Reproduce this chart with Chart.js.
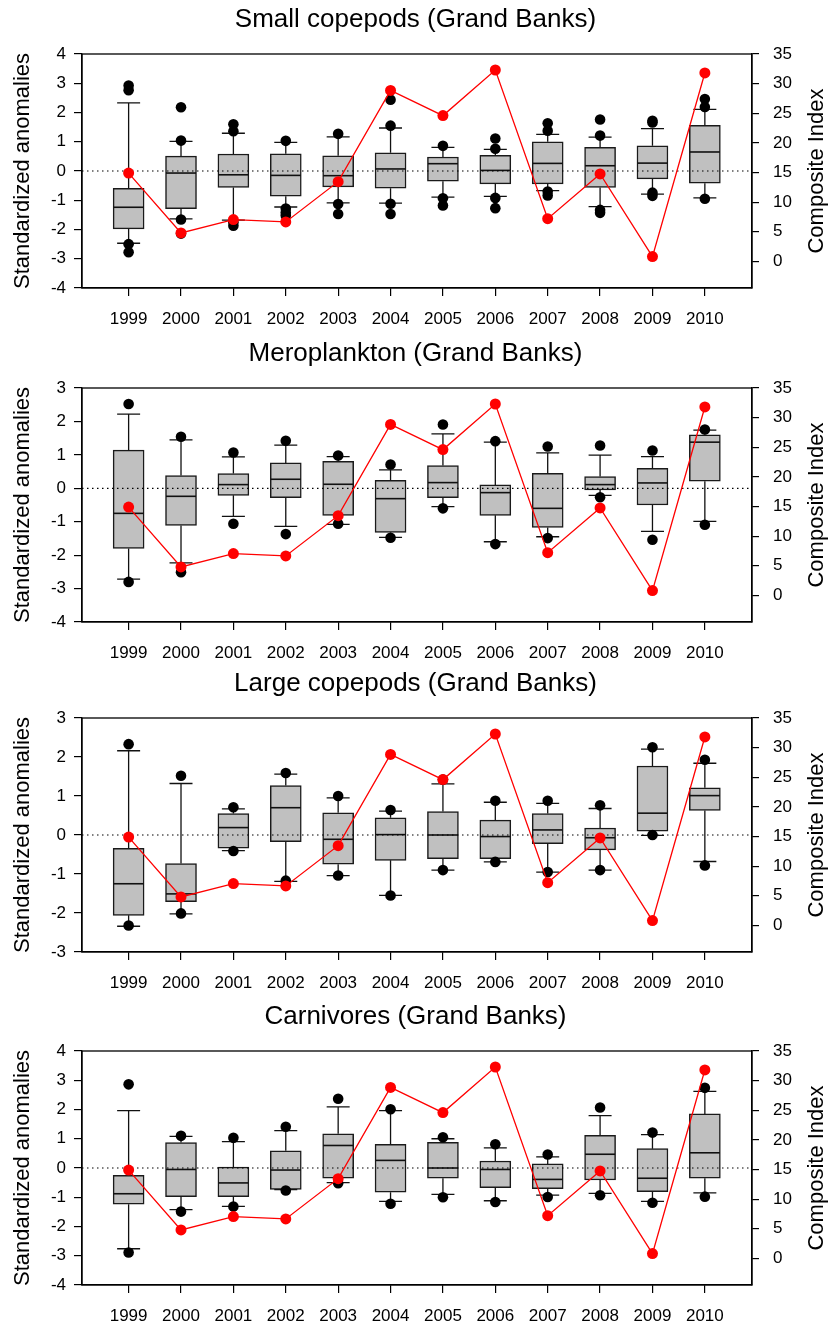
<!DOCTYPE html>
<html>
<head>
<meta charset="utf-8">
<script src="https://cdn.jsdelivr.net/npm/chart.js@4.4.1/dist/chart.umd.min.js"></script>
<style>
  body { margin: 0; background: #fff; overflow: hidden; }
  #wrap { position: relative; width: 831px; height: 1325px; }
  canvas { position: absolute; left: 0; }
</style>
</head>
<body>
<div id="wrap">
  <canvas id="c1" width="831" height="330" style="top:0px"></canvas>
  <canvas id="c2" width="831" height="330" style="top:334px"></canvas>
  <canvas id="c3" width="831" height="330" style="top:664px"></canvas>
  <canvas id="c4" width="831" height="330" style="top:997px"></canvas>
</div>
<script>
// --- data ---
const years = ['1999', '2000', '2001', '2002', '2003', '2004', '2005', '2006', '2007', '2008', '2009', '2010'];
const composite = [14.9, 4.8, 7.05, 6.65, 13.45, 28.85, 24.6, 32.3, 7.2, 14.75, 0.8, 31.8];
const compositeTicks = [0, 5, 10, 15, 20, 25, 30, 35];
const ticksA = [-4, -3, -2, -1, 0, 1, 2, 3, 4];
const ticksB = [-4, -3, -2, -1, 0, 1, 2, 3];
const ticksC = [-3, -2, -1, 0, 1, 2, 3];

// Small copepods
const smLow  = [-2.47, -1.64, -1.68, -1.23, -1.09, -1.10, -0.89, -0.87, -0.67, -1.22, -0.79, -0.92];
const smQ1   = [-1.98, -1.29, -0.56, -0.86, -0.54, -0.59, -0.35, -0.44, -0.44, -0.56, -0.27, -0.42];
const smMed  = [-1.24, -0.07, -0.13, -0.15, -0.16, 0.07, 0.25, 0.02, 0.26, 0.18, 0.27, 0.65];
const smQ3   = [-0.59, 0.51, 0.58, 0.59, 0.52, 0.62, 0.48, 0.54, 1.00, 0.81, 0.86, 1.56];
const smHigh = [2.33, 1.01, 1.29, 0.98, 1.17, 1.47, 0.81, 0.74, 1.25, 1.16, 1.45, 2.11];
const smOut  = [[2.92, 2.76, -2.5, -2.78], [2.18, 1.04, -1.66, -2.14], [1.6, 1.36, -1.75, -1.87],
  [1.03, -1.28, -1.42, -1.52], [1.27, -1.13, -1.47], [2.44, 1.55, -1.12, -1.47], [0.86, -0.93, -1.18],
  [1.11, 0.76, -0.92, -1.27], [1.63, 1.38, -0.7, -0.84], [1.76, 1.21, -1.33, -1.43],
  [1.72, 1.66, -0.74, -0.85], [2.46, 2.19, -0.95]];

// Meroplankton
const mpLow  = [-2.72, -2.23, -0.84, -1.14, -1.08, -1.47, -0.55, -1.60, -1.45, -0.21, -1.29, -0.99];
const mpQ1   = [-1.80, -1.11, -0.21, -0.28, -0.81, -1.32, -0.28, -0.81, -1.17, -0.05, -0.50, 0.21];
const mpMed  = [-0.75, -0.24, 0.11, 0.27, 0.12, -0.31, 0.17, -0.13, -0.60, 0.11, 0.16, 1.38];
const mpQ3   = [1.14, 0.38, 0.44, 0.76, 0.81, 0.24, 0.68, 0.10, 0.45, 0.35, 0.60, 1.60];
const mpHigh = [2.22, 1.45, 0.94, 1.29, 0.95, 0.55, 1.63, 1.38, 1.06, 0.99, 0.95, 1.74];
const mpOut  = [[2.52, -2.8], [1.54, -2.51], [1.07, -1.06], [1.42, -1.37], [0.98, -1.06], [0.71, -1.48],
  [1.91, -0.6], [1.41, -1.67], [1.25, -1.49], [1.28, -0.27], [1.13, -1.54], [1.76, -1.09]];

// Large copepods
const lcLow  = [-2.34, -2.02, -0.40, -1.19, -1.04, -1.55, -0.90, -0.69, -0.95, -0.90, -0.01, -0.68];
const lcQ1   = [-2.06, -1.71, -0.34, -0.17, -0.75, -0.65, -0.61, -0.61, -0.22, -0.38, 0.10, 0.63];
const lcMed  = [-1.25, -1.51, 0.19, 0.70, -0.11, 0.01, 0.00, -0.04, 0.13, -0.07, 0.56, 1.01];
const lcQ3   = [-0.34, -0.73, 0.55, 1.27, 0.57, 0.44, 0.60, 0.38, 0.55, 0.18, 1.77, 1.21];
const lcHigh = [2.16, 1.32, 0.67, 1.56, 0.95, 0.61, 1.31, 0.84, 0.81, 0.68, 2.20, 1.84];
const lcOut  = [[2.33, -2.32], [1.52, -2.01], [0.71, -0.41], [1.59, -1.17], [1.0, -1.04], [0.64, -1.55],
  [1.42, -0.9], [0.88, -0.69], [0.88, -0.95], [0.76, -0.9], [2.25, 0.0], [1.93, -0.78]];

// Carnivores
const cvLow  = [-2.76, -1.42, -1.31, -0.74, -0.50, -1.14, -0.90, -1.12, -0.93, -0.87, -1.14, -0.85];
const cvQ1   = [-1.24, -0.98, -0.98, -0.73, -0.35, -0.83, -0.35, -0.67, -0.71, -0.41, -0.81, -0.35];
const cvMed  = [-0.88, -0.05, -0.51, -0.07, 0.77, 0.26, 0.00, -0.05, -0.39, 0.47, -0.35, 0.52];
const cvQ3   = [-0.25, 0.87, 0.03, 0.59, 1.17, 0.81, 0.88, 0.24, 0.14, 1.12, 0.66, 1.85];
const cvHigh = [1.96, 1.08, 0.90, 1.28, 2.09, 1.96, 1.00, 0.69, 0.38, 1.79, 1.14, 2.62];
const cvOut  = [[2.86, -2.89], [1.1, -1.49], [1.03, -1.32], [1.41, -0.77], [2.37, -0.52], [2.01, -1.22],
  [1.05, -1.0], [0.81, -1.16], [0.46, -0.99], [2.07, -0.93], [1.21, -1.19], [2.74, -0.98]];

// --- drawing ---
const FONT = '"Liberation Sans", Arial, Helvetica, sans-serif';
Chart.defaults.font.family = FONT;
Chart.defaults.color = '#000';
Chart.defaults.animation = false;

function makePanel(id, title, yTicks, low, q1, med, q3, high, outliers) {
  const boxData = years.map((_, i) => ({ x: i, y: [q1[i], q3[i]] }));
  const outData = [];
  outliers.forEach((vals, i) => vals.forEach(v => outData.push({ x: i, y: v })));
  const lineData = composite.map((v, i) => ({ x: i, y: v }));

  const extras = {
    id: 'boxExtras',
    beforeDatasetsDraw(chart) {
      const { ctx, chartArea: a } = chart;
      ctx.save();
      ctx.strokeStyle = '#000';
      ctx.lineWidth = 1.3;
      ctx.strokeRect(a.left, a.top, a.right - a.left, a.bottom - a.top);
      ctx.restore();
    },
    afterDatasetDraw(chart, args) {
      if (args.index !== 2) return; // after the boxes only
      const { ctx, chartArea: a, scales: { x, y } } = chart;
      ctx.save();
      ctx.strokeStyle = '#111';
      years.forEach((_, i) => {
        const cx = x.getPixelForValue(i);
        const yHi = y.getPixelForValue(high[i]);
        const yLo = y.getPixelForValue(low[i]);
        ctx.lineWidth = 1.3;
        ctx.beginPath();
        ctx.moveTo(cx, y.getPixelForValue(q3[i])); ctx.lineTo(cx, yHi);
        ctx.moveTo(cx, y.getPixelForValue(q1[i])); ctx.lineTo(cx, yLo);
        ctx.moveTo(cx - 11.5, yHi); ctx.lineTo(cx + 11.5, yHi);
        ctx.moveTo(cx - 11.5, yLo); ctx.lineTo(cx + 11.5, yLo);
        ctx.stroke();
        const ym = y.getPixelForValue(med[i]);
        ctx.lineWidth = 1.6;
        ctx.beginPath();
        ctx.moveTo(cx - 15, ym); ctx.lineTo(cx + 15, ym);
        ctx.stroke();
      });
      // dotted zero line
      const y0 = y.getPixelForValue(0);
      ctx.strokeStyle = '#000';
      ctx.lineWidth = 1.2;
      ctx.setLineDash([1.5, 3.5]);
      ctx.beginPath();
      ctx.moveTo(a.left, y0); ctx.lineTo(a.right - 3, y0);
      ctx.stroke();
      ctx.restore();
    },
    afterDraw(chart) {
      // right axis title reads bottom-to-top, like the left one
      const { ctx, chartArea: a } = chart;
      ctx.save();
      ctx.translate(816.5, (a.top + a.bottom) / 2);
      ctx.rotate(-Math.PI / 2);
      ctx.font = '22px ' + FONT;
      ctx.fillStyle = '#000';
      ctx.textAlign = 'center';
      ctx.textBaseline = 'middle';
      ctx.fillText('Composite Index', 0, 0);
      ctx.restore();
    }
  };

  return new Chart(document.getElementById(id), {
    type: 'bar',
    data: {
      datasets: [
        {
          type: 'line', label: 'Composite Index', data: lineData, yAxisID: 'y2', order: 0,
          borderColor: '#ff0000', borderWidth: 1.3, tension: 0,
          pointRadius: 5.5, pointBackgroundColor: '#ff0000', pointBorderWidth: 0
        },
        {
          type: 'line', label: 'outliers', data: outData, yAxisID: 'y', order: 1,
          showLine: false, pointRadius: 5.3, pointBackgroundColor: '#000', pointBorderWidth: 0
        },
        {
          type: 'bar', label: 'boxes', data: boxData, yAxisID: 'y', order: 2,
          backgroundColor: '#c0c0c0', borderColor: '#1a1a1a', borderWidth: 1.5,
          borderSkipped: false, barThickness: 31, grouped: false
        }
      ]
    },
    options: {
      responsive: false,
      events: [],
      layout: { padding: 0 },
      plugins: {
        legend: { display: false },
        tooltip: { enabled: false },
        title: {
          display: true, text: title, color: '#000',
          font: { size: 26, weight: 'normal' },
          padding: { top: 4, bottom: 18.8 }
        }
      },
      scales: {
        x: {
          type: 'linear', min: -0.89, max: 11.9, offset: false,
          afterBuildTicks: s => { s.ticks = years.map((_, i) => ({ value: i })); },
          afterFit: s => { s.height = 42; },
          ticks: { callback: v => years[v], autoSkip: false, maxRotation: 0, padding: 13, font: { size: 17 } },
          grid: { offset: false, drawOnChartArea: false, tickLength: 8, color: '#000', lineWidth: 1.2 },
          border: { display: true, color: '#000', width: 1.3 }
        },
        y: {
          type: 'linear', position: 'left',
          min: yTicks[0], max: yTicks[yTicks.length - 1],
          afterBuildTicks: s => { s.ticks = yTicks.map(v => ({ value: v })); },
          afterFit: s => { s.width = 82; },
          ticks: { padding: 8, font: { size: 17 } },
          grid: { drawOnChartArea: false, tickLength: 8, color: '#000', lineWidth: 1.2 },
          border: { display: true, color: '#000', width: 1.3 },
          title: { display: true, text: 'Standardized anomalies', font: { size: 22 }, padding: { top: 10, bottom: 0 } }
        },
        y2: {
          type: 'linear', position: 'right', min: -4.5, max: 35,
          afterBuildTicks: s => { s.ticks = compositeTicks.map(v => ({ value: v })); },
          afterFit: s => { s.width = 79; },
          ticks: { padding: 14, font: { size: 17 } },
          grid: { drawOnChartArea: false, tickLength: 7, color: '#000', lineWidth: 1.2 },
          border: { display: true, color: '#000', width: 1.3 }
        }
      }
    },
    plugins: [extras]
  });
}

makePanel('c1', 'Small copepods (Grand Banks)', ticksA, smLow, smQ1, smMed, smQ3, smHigh, smOut);
makePanel('c2', 'Meroplankton (Grand Banks)', ticksB, mpLow, mpQ1, mpMed, mpQ3, mpHigh, mpOut);
makePanel('c3', 'Large copepods (Grand Banks)', ticksC, lcLow, lcQ1, lcMed, lcQ3, lcHigh, lcOut);
makePanel('c4', 'Carnivores (Grand Banks)', ticksA, cvLow, cvQ1, cvMed, cvQ3, cvHigh, cvOut);
</script>
</body>
</html>
